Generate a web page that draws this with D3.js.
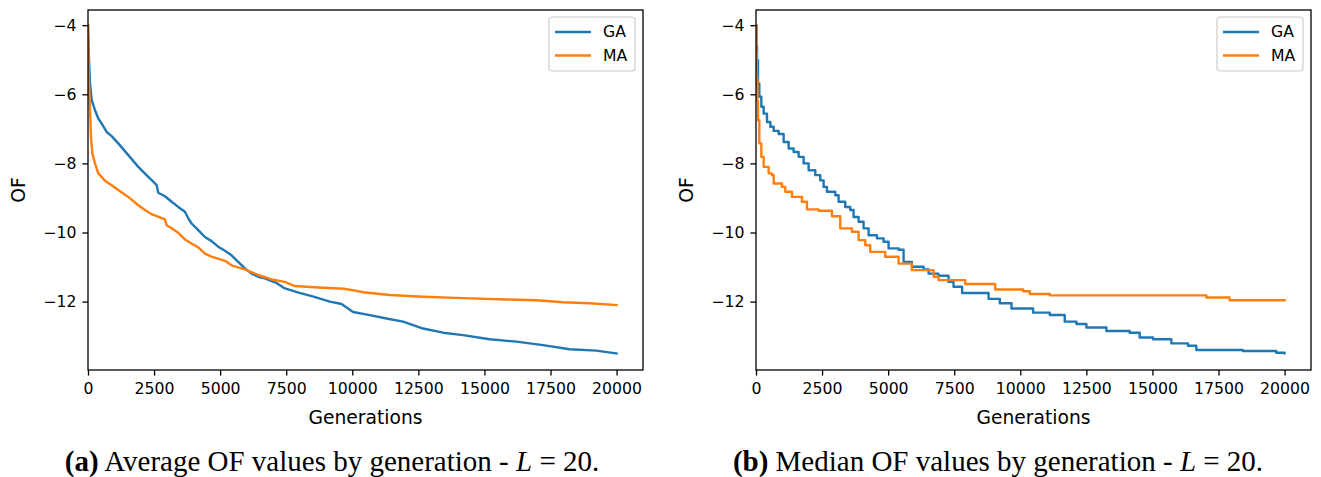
<!DOCTYPE html>
<html>
<head>
<meta charset="utf-8">
<script src="https://cdn.jsdelivr.net/npm/d3@7"></script>
<style>
  body { margin: 0; background: #fff; overflow: hidden; }
  svg { display: block; }
</style>
</head>
<body>
<div id="chart"></div>
<script>
// series (generation, OF value)
const avgGaGens = [0, 38, 76, 140, 265, 390, 517, 707, 895, 1146, 1525, 1903, 2281, 2471, 2597, 2659, 2911, 3164, 3415, 3668, 3794, 3920, 4172, 4424, 4676, 4927, 5180, 5433, 5684, 5936, 6189, 6440, 6692, 7100, 7449, 8000, 8500, 9150, 9592, 10030, 10662, 11293, 11923, 12679, 13435, 14191, 15200, 16209, 17217, 18226, 19234, 20000]
const avgGaVals = [-4.0, -5.01, -5.69, -6.17, -6.46, -6.70, -6.85, -7.09, -7.21, -7.42, -7.76, -8.10, -8.39, -8.53, -8.63, -8.85, -8.95, -9.11, -9.26, -9.40, -9.59, -9.74, -9.93, -10.13, -10.25, -10.41, -10.53, -10.66, -10.85, -11.04, -11.19, -11.28, -11.33, -11.45, -11.62, -11.75, -11.85, -12.0, -12.07, -12.30, -12.39, -12.49, -12.58, -12.78, -12.90, -12.97, -13.09, -13.16, -13.26, -13.38, -13.42, -13.50]
const avgMaGens = [0, 25, 76, 113, 164, 265, 390, 643, 895, 1146, 1525, 1903, 2155, 2408, 2911, 2975, 3164, 3415, 3668, 3920, 4172, 4424, 4676, 5180, 5433, 5936, 6440, 6945, 7449, 7827, 8708, 9717, 10030, 10409, 11419, 12679, 14191, 15831, 16965, 17973, 18981, 20000]
const avgMaVals = [-4.0, -5.4, -6.46, -7.23, -7.71, -8.00, -8.29, -8.50, -8.63, -8.77, -8.97, -9.21, -9.35, -9.47, -9.62, -9.79, -9.88, -10.01, -10.20, -10.32, -10.43, -10.61, -10.70, -10.82, -10.95, -11.07, -11.23, -11.36, -11.43, -11.55, -11.59, -11.63, -11.67, -11.73, -11.81, -11.86, -11.90, -11.94, -11.96, -12.02, -12.05, -12.10]

const medGaGens = [0, 20, 38, 76, 126, 202, 290, 416, 542, 668, 857, 1046, 1236, 1424, 1613, 1802, 1991, 2243, 2432, 2558, 2684, 2999, 3126, 3377, 3566, 3692, 3882, 4071, 4261, 4575, 4827, 5017, 5395, 5584, 5898, 6341, 6530, 6900, 7286, 7474, 7800, 8800, 9225, 9667, 10484, 11115, 11682, 12124, 12502, 13258, 14140, 14518, 15022, 15716, 16345, 16660, 18424, 19685, 20000]
const medGaVals = [-4.0, -4.6, -5.01, -5.69, -6.07, -6.36, -6.56, -6.80, -6.94, -7.06, -7.15, -7.38, -7.57, -7.67, -7.81, -8.00, -8.20, -8.34, -8.49, -8.68, -8.82, -8.92, -9.11, -9.26, -9.35, -9.55, -9.69, -9.88, -10.08, -10.17, -10.27, -10.46, -10.50, -10.85, -10.99, -11.07, -11.19, -11.25, -11.43, -11.57, -11.75, -11.92, -12.05, -12.20, -12.32, -12.39, -12.58, -12.65, -12.75, -12.85, -12.90, -13.04, -13.09, -13.21, -13.28, -13.40, -13.43, -13.48, -13.50]
const medMaGens = [0, 12, 25, 50, 76, 126, 202, 290, 479, 605, 669, 983, 1108, 1361, 1739, 1928, 2369, 2873, 3188, 3630, 3882, 4134, 4321, 4889, 5395, 5898, 6719, 6908, 7914, 9049, 10107, 10359, 11115, 17040, 17920, 20000]
const medMaVals = [-4.0, -4.8, -5.49, -6.2, -6.75, -7.42, -7.81, -8.10, -8.29, -8.34, -8.58, -8.68, -8.82, -8.97, -9.11, -9.33, -9.37, -9.53, -9.88, -9.98, -10.22, -10.37, -10.56, -10.70, -10.90, -11.09, -11.28, -11.38, -11.49, -11.65, -11.70, -11.78, -11.82, -11.88, -11.96, -11.96]

const seriesNames = ['GA', 'MA']
const xTicks = [0, 2500, 5000, 7500, 10000, 12500, 15000, 17500, 20000]
const yTicks = [-12, -10, -8, -6, -4]
const xLim = [0, 21000]
const yLim = [-13.98, -3.56]
const captions = [
  {tag: '(a)', text: ' Average OF values by generation - '},
  {tag: '(b)', text: ' Median OF values by generation - '}
]

const colors = ['#1f77b4', '#ff7f0e']
const W = 1321, H = 477
const sans = '"DejaVu Sans", sans-serif'

const svg = d3.select('#chart').append('svg')
  .attr('width', W).attr('height', H)
  .attr('font-family', sans)

const panels = [
  {left: 88, series: [[avgGaGens, avgGaVals], [avgMaGens, avgMaVals]], curve: d3.curveLinear, capX: 332},
  {left: 756, series: [[medGaGens, medGaVals], [medMaGens, medMaVals]], curve: d3.curveStepAfter, capX: 998}
]
const topY = 10, pw = 555, ph = 360

panels.forEach(function(p, k) {
  const g = svg.append('g').attr('transform', `translate(${p.left},${topY})`)
  const x = d3.scaleLinear().domain(xLim).range([0, pw])
  const y = d3.scaleLinear().domain(yLim).range([ph, 0])

  // lines
  const line = d3.line()
    .x(d => x(d[0])).y(d => y(d[1]))
    .curve(p.curve)
  g.append('defs').append('clipPath').attr('id', 'clip' + k)
    .append('rect').attr('width', pw).attr('height', ph)
  p.series.forEach(function(s, i) {
    const pts = s[0].map((gen, j) => [gen, s[1][j]])
    g.append('path')
      .attr('clip-path', `url(#clip${k})`)
      .attr('d', line(pts))
      .attr('fill', 'none')
      .attr('stroke', colors[i])
      .attr('stroke-width', 2.4)
      .attr('stroke-linejoin', 'round')
      .attr('stroke-linecap', 'square')
  })

  // axes
  const xAxis = g.append('g').attr('transform', `translate(0,${ph})`)
    .call(d3.axisBottom(x).tickValues(xTicks).tickFormat(d3.format('d')).tickSize(5.6).tickPadding(7.5))
  const yAxis = g.append('g')
    .call(d3.axisLeft(y).tickValues(yTicks).tickFormat(d3.format('d')).tickSize(5.6).tickPadding(6))
  ;[xAxis, yAxis].forEach(a => {
    a.select('.domain').remove()
    a.selectAll('line').attr('stroke', '#000').attr('stroke-width', 1.3)
    a.selectAll('text').attr('font-size', 15.7).attr('fill', '#000')
    a.attr('font-family', sans)
  })

  g.append('rect').attr('width', pw).attr('height', ph)
    .attr('fill', 'none').attr('stroke', '#000').attr('stroke-width', 1.3)

  g.append('text').attr('x', pw / 2).attr('y', ph + 54)
    .attr('text-anchor', 'middle').attr('font-size', 18.7).text('Generations')
  g.append('text')
    .attr('transform', `translate(-63,${ph / 2}) rotate(-90)`)
    .attr('text-anchor', 'middle').attr('font-size', 18.7).text('OF')

  // legend
  const lg = g.append('g').attr('transform', `translate(${pw - 94},7)`)
  lg.append('rect').attr('width', 86).attr('height', 54).attr('rx', 3)
    .attr('fill', '#fff').attr('fill-opacity', 0.8)
    .attr('stroke', '#ccc').attr('stroke-width', 1.2)
  seriesNames.forEach(function(n, i) {
    lg.append('line').attr('x1', 6).attr('x2', 42)
      .attr('y1', 15 + i * 23.5).attr('y2', 15 + i * 23.5)
      .attr('stroke', colors[i]).attr('stroke-width', 2.4)
    lg.append('text').attr('x', 54).attr('y', 15 + i * 23.5).attr('dy', '0.35em')
      .attr('font-size', 15.7).text(n)
  })

  // caption
  const c = captions[k]
  const t = svg.append('text').attr('x', p.capX).attr('y', 471)
    .attr('text-anchor', 'middle')
    .attr('font-family', '"Liberation Serif", "Times New Roman", serif')
    .attr('font-size', 29).attr('fill', '#000')
  t.append('tspan').attr('font-weight', 'bold').text(c.tag)
  t.append('tspan').text(c.text)
  t.append('tspan').attr('font-style', 'italic').text('L')
  t.append('tspan').text(' = 20.')
})
</script>
</body>
</html>
